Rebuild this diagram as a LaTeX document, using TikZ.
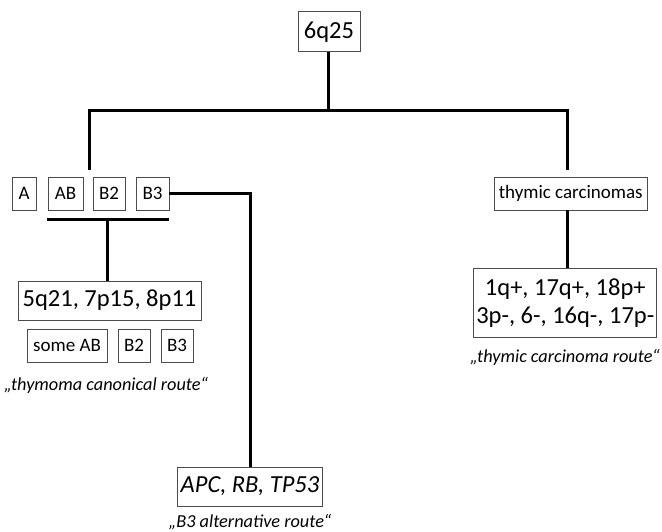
\documentclass[tikz,border=0pt]{standalone}
\usepackage{fontspec}
\setmainfont{Carlito}
\usepackage{tikz}
\usetikzlibrary{positioning, calc}

\newcommand{\bigtxt}{\fontsize{24.5}{28}\selectfont}
\newcommand{\smalltxt}{\fontsize{19}{22}\selectfont}
\newcommand{\routetxt}{\fontsize{18.3}{20}\selectfont\itshape}

\begin{document}
\begin{tikzpicture}[x=1pt, y=-1pt,
    box/.style={draw=black!70, line width=0.8pt, inner sep=0pt, minimum height=33},
    bigbox/.style={box, font=\bigtxt, minimum height=39},
    smallbox/.style={box, font=\smalltxt},
    conn/.style={line width=3pt},
    route/.style={font=\routetxt, inner sep=0pt}]
  \useasboundingbox (0,0) rectangle (662,531);

  % root
  \node[bigbox, minimum width=62, minimum height=40] (root) at (329,31.7) {6q25};

  % WHO types
  \foreach \n/\t/\x/\w in {tA/A/24/24, tAB/AB/65.5/35, tBtwo/B2/109/32, tBthree/B3/152.5/33}{
    \node[smallbox, minimum width=\w] (\n) at (\x,193.5) {\t};
  }
  \node[smallbox, minimum width=153] (tc) at (570.7,193.5) {thymic carcinomas};

  % thymoma canonical route
  \node[bigbox, minimum width=183] (canon) at (109.5,300.5) {5q21, 7p15, 8p11};
  \foreach \n/\t/\x/\w in {sAB/some AB/67/80, sBtwo/B2/134/32, sBthree/B3/177/32}{
    \node[smallbox, minimum width=\w] (\n) at (\x,345.5) {\t};
  }
  \node[route] (canonlbl) at (106,385) {„thymoma canonical route“};

  % thymic carcinoma route
  \node[bigbox, minimum width=183, minimum height=69, align=center] (carc) at (565.3,302.8)
    {1q+, 17q+, 18p+\\3p-, 6-, 16q-, 17p-};
  \node[route] (carclbl) at (565,357) {„thymic carcinoma route“};

  % B3 alternative route
  \node[bigbox, minimum width=145, font=\bigtxt\itshape] (alt) at (250,486.5) {APC, RB, TP53};
  \node[route] (altlbl) at (250,522) {„B3 alternative route“};

  % tree lines
  \coordinate (split) at (328,110.7);
  \coordinate (lend) at (89,170);
  \coordinate (rend) at (567,170);
  \coordinate (barL) at (47,219);
  \coordinate (barR) at (169,219);
  \coordinate (barM) at (107,219);
  \draw[conn] (root.south -| split) -- (split);
  \draw[conn] (lend) |- (split) -| (rend);
  \draw[conn] (barL) -- (barR);
  \draw[conn] (barM) -- (barM |- canon.north);
  \draw[conn] (tBthree.east) -| (alt.north);
  \draw[conn] (tc.south -| rend) -- (carc.north -| rend);
\end{tikzpicture}
\end{document}
